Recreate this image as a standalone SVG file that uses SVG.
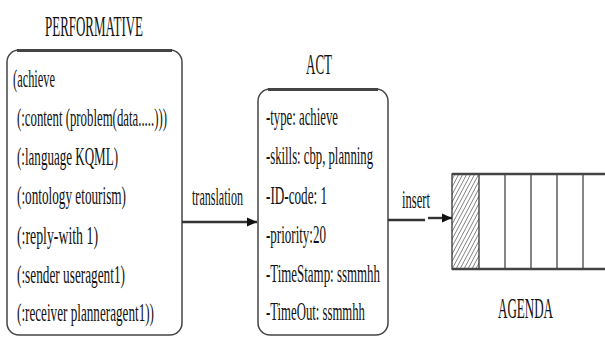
<svg xmlns="http://www.w3.org/2000/svg" width="605" height="337" viewBox="0 0 605 337">
<style>
text{font-family:"Liberation Serif","Times New Roman",serif;fill:#111}
.t{font-size:30px}
.b{font-size:26px}
.box{fill:none;stroke:#444;stroke-width:1.5}
.top{stroke:#444;stroke-width:3}
.ln{stroke:#333;stroke-width:2.4;fill:none}
.cell{stroke:#444;stroke-width:1.3}
</style>
<defs>
<marker id="ah" markerWidth="11" markerHeight="11" refX="10" refY="5.5" orient="auto" markerUnits="userSpaceOnUse">
<path d="M0,1 L10,5.5 L0,10 Z" fill="#111"/>
</marker>
<pattern id="hatch" patternUnits="userSpaceOnUse" width="3.5" height="4" patternTransform="rotate(28)">
<line x1="0" y1="0" x2="0" y2="4" stroke="#222" stroke-width="1"/>
</pattern>
</defs>
<g id="performative">
<rect class="box" x="7" y="50" width="175" height="285" rx="12"/>
<line class="top" x1="17" y1="50.5" x2="172" y2="50.5"/>
<g transform="scale(0.5 1)">
<text class="t" x="90" y="36" textLength="196" lengthAdjust="spacingAndGlyphs">PERFORMATIVE</text>
<text class="b" x="26" y="87" textLength="84" lengthAdjust="spacingAndGlyphs">(achieve</text>
<text class="b" x="34" y="126" textLength="300" lengthAdjust="spacingAndGlyphs">(:content (problem(data.....)))</text>
<text class="b" x="34" y="165" textLength="202" lengthAdjust="spacingAndGlyphs">(:language KQML)</text>
<text class="b" x="34" y="204" textLength="218" lengthAdjust="spacingAndGlyphs">(:ontology etourism)</text>
<text class="b" x="34" y="244" textLength="162" lengthAdjust="spacingAndGlyphs">(:reply-with 1)</text>
<text class="b" x="34" y="283" textLength="216" lengthAdjust="spacingAndGlyphs">(:sender useragent1)</text>
<text class="b" x="34" y="321" textLength="274" lengthAdjust="spacingAndGlyphs">(:receiver planneragent1))</text>
</g>
</g>
<g id="act">
<rect class="box" x="258" y="89" width="130" height="246" rx="12"/>
<line class="top" x1="268" y1="89.5" x2="378" y2="89.5"/>
<g transform="scale(0.5 1)">
<text class="t" x="612" y="74" textLength="52" lengthAdjust="spacingAndGlyphs">ACT</text>
<text class="b" x="532" y="125" textLength="144" lengthAdjust="spacingAndGlyphs">-type: achieve</text>
<text class="b" x="532" y="164" textLength="214" lengthAdjust="spacingAndGlyphs">-skills: cbp, planning</text>
<text class="b" x="532" y="204" textLength="122" lengthAdjust="spacingAndGlyphs">-ID-code: 1</text>
<text class="b" x="532" y="243" textLength="120" lengthAdjust="spacingAndGlyphs">-priority:20</text>
<text class="b" x="532" y="282" textLength="228" lengthAdjust="spacingAndGlyphs">-TimeStamp: ssmmhh</text>
<text class="b" x="532" y="320" textLength="198" lengthAdjust="spacingAndGlyphs">-TimeOut: ssmmhh</text>
</g>
</g>
<g id="agenda">
<rect x="452" y="174" width="27" height="95" fill="url(#hatch)" stroke="#333" stroke-width="1.3"/>
<line class="cell" x1="505" y1="174" x2="505" y2="269"/>
<line class="cell" x1="531" y1="174" x2="531" y2="269"/>
<line class="cell" x1="557" y1="174" x2="557" y2="269"/>
<line class="cell" x1="583" y1="174" x2="583" y2="269"/>
<line stroke="#444" stroke-width="2.5" x1="452" y1="174" x2="605" y2="174"/>
<line stroke="#444" stroke-width="2.5" x1="452" y1="269" x2="605" y2="269"/>
<g transform="scale(0.5 1)">
<text class="t" x="996" y="318" textLength="110" lengthAdjust="spacingAndGlyphs">AGENDA</text>
</g>
</g>
<g id="connectors">
<line class="ln" x1="182" y1="222" x2="257" y2="222" marker-end="url(#ah)"/>
<line class="ln" x1="388" y1="220" x2="425" y2="220"/>
<line class="ln" x1="428" y1="218" x2="452" y2="218" marker-end="url(#ah)"/>
<g transform="scale(0.5 1)">
<text class="b" x="384" y="205" textLength="102" lengthAdjust="spacingAndGlyphs">translation</text>
<text class="b" x="804" y="208" textLength="56" lengthAdjust="spacingAndGlyphs">insert</text>
</g>
</g>
</svg>
